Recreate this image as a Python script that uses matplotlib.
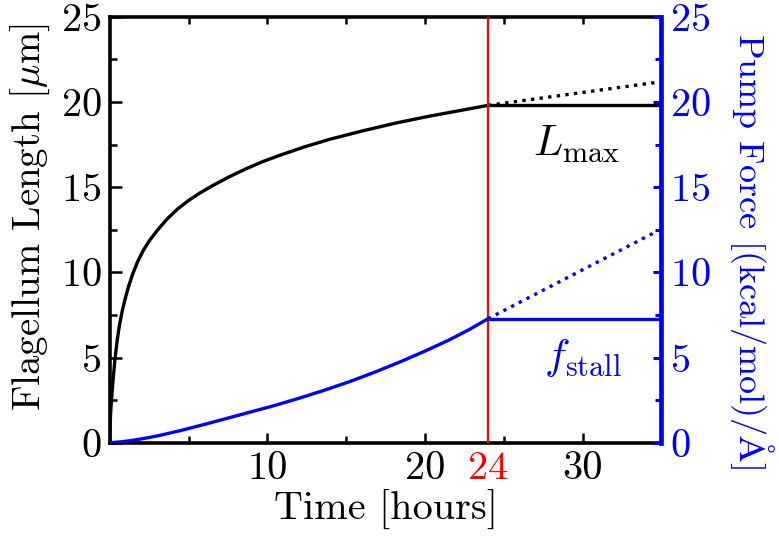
import matplotlib
matplotlib.use("Agg")
import matplotlib.pyplot as plt
from matplotlib.ticker import MultipleLocator, FixedLocator

plt.rcParams['font.family'] = ['cmr10', 'DejaVu Serif']
plt.rcParams['mathtext.fontset'] = 'cm'
plt.rcParams['axes.formatter.use_mathtext'] = True
plt.rcParams['axes.unicode_minus'] = False

# Flagellum length (black)
t_len = [0, 0.01, 0.03, 0.06, 0.1, 0.15, 0.22, 0.32, 0.45, 0.6, 0.8, 1.0, 1.2, 1.45,
         1.75, 2.1, 2.5, 3.0, 3.6, 4.3, 5.0, 5.7, 6.54, 7.6, 8.65, 9.7, 10.76, 12.3,
         13.92, 16.03, 18.14, 20.25, 22.36, 24]
L_len = [0, 0.7, 1.3, 1.9, 2.45, 3.05, 3.85, 4.85, 5.9, 6.85, 7.8, 8.55, 9.2, 9.9,
         10.6, 11.25, 11.85, 12.45, 13.1, 13.72, 14.22, 14.65, 15.1, 15.62, 16.08, 16.5,
         16.86, 17.35, 17.8, 18.3, 18.76, 19.16, 19.52, 19.8]

# Pump force (blue)
t_force = [0, 0.75, 1.5, 2.25, 3.0, 4.5, 6.0, 7.5, 8.86, 10.5, 12.03, 13.6, 15.19,
           16.8, 18.35, 20.0, 21.52, 22.8, 24]
f_force = [0, 0.06, 0.15, 0.27, 0.4, 0.72, 1.08, 1.45, 1.79, 2.2, 2.62, 3.08, 3.58,
           4.14, 4.72, 5.38, 6.03, 6.64, 7.28]

# After cut-off time
t_cut = 24
t_end = 34.7
L_max = 19.8
L_cont_end = 21.15
f_stall = 7.28
f_cont_end = 12.4

x_major = [10, 20, 24, 30]
x_major_labels = ['10', '20', '24', '30']

fig = plt.figure(figsize=(7.79, 5.40), dpi=100)
ax = fig.add_axes([0.141, 0.180, 0.708, 0.789])
ax2 = ax.twinx()

ax.set_xlim(0, 35)
ax.set_ylim(0, 25)
ax2.set_ylim(0, 25)

lw = 2.4
ax.plot(t_len, L_len, color='black', lw=lw, solid_capstyle='round', solid_joinstyle='round')
ax.plot([t_cut, 35], [L_max, L_max], color='black', lw=lw)
ax.plot([t_cut, t_end], [L_max, L_cont_end], color='black', lw=lw, ls=(0, (1, 1.6)))

ax2.plot(t_force, f_force, color='blue', lw=lw, solid_capstyle='round', solid_joinstyle='round')
ax2.plot([t_cut, 35], [f_stall, f_stall], color='blue', lw=lw)
ax2.plot([t_cut, t_end], [f_stall, f_cont_end], color='blue', lw=lw, ls=(0, (1, 1.6)))

ax.axvline(t_cut, color='red', lw=1.6, zorder=5)

fs = 29
ax.text(29.6, 17.5, r'$L_{\mathrm{max}}$', fontsize=31, ha='center', va='center', color='black')
ax2.text(30.0, 5.0, r'$f_{\mathrm{stall}}$', fontsize=31, ha='center', va='center', color='blue')

# x ticks
ax.xaxis.set_major_locator(FixedLocator(x_major))
ax.set_xticklabels(x_major_labels)
ax.xaxis.set_minor_locator(FixedLocator([5, 15, 25]))
ax.tick_params(axis='x', which='major', direction='in', length=7.5, width=1.8,
               labelsize=fs, pad=6, top=False)
ax.tick_params(axis='x', which='minor', direction='in', length=5, width=1.8, top=False)
xt = ax.xaxis.get_major_ticks()
xt[2].tick1line.set_visible(False)
xt[2].label1.set_color('red')

# top ticks
sec = ax.secondary_xaxis('top')
sec.xaxis.set_major_locator(FixedLocator([5, 10, 15, 20, 25, 30]))
sec.tick_params(direction='in', length=5, width=1.8, labeltop=False)
sec.spines['top'].set_visible(False)

# left ticks
ax.yaxis.set_major_locator(MultipleLocator(5))
ax.yaxis.set_minor_locator(MultipleLocator(2.5))
ax.tick_params(axis='y', which='major', direction='in', length=8.5, width=1.8,
               labelsize=fs, pad=6, right=False)
ax.tick_params(axis='y', which='minor', direction='in', length=5, width=1.8, right=False)

# right ticks
ax2.yaxis.set_major_locator(MultipleLocator(5))
ax2.yaxis.set_minor_locator(MultipleLocator(2.5))
ax2.tick_params(axis='y', which='major', direction='in', length=6, width=2.2,
                labelsize=fs, pad=6, colors='blue')
ax2.tick_params(axis='y', which='minor', direction='in', length=4, width=2.2, colors='blue')

for s in ['left', 'bottom', 'top']:
    ax.spines[s].set_linewidth(2.6)
ax.spines['right'].set_visible(False)
for s in ['left', 'bottom', 'top']:
    ax2.spines[s].set_visible(False)
ax2.spines['right'].set_color('blue')
ax2.spines['right'].set_linewidth(3.4)

ax.set_xlabel('Time [hours]', fontsize=fs, labelpad=2)
ax.set_ylabel(r'Flagellum Length [$\mu$m]', fontsize=28, va='center')
ax.yaxis.set_label_coords(-0.145, 0.53)
ax2.set_ylabel(r'Pump Force [(kcal/mol)/$\mathrm{\AA}$]', fontsize=26, color='blue',
               rotation=270, va='center')
ax2.yaxis.set_label_coords(1.165, 0.45)

fig.savefig('out.png', dpi=100)
